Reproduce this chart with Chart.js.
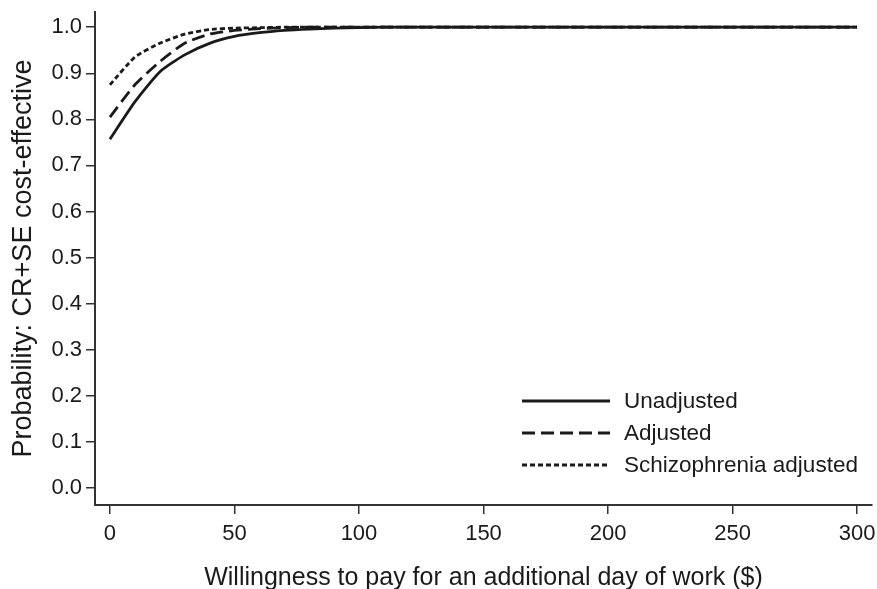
<!DOCTYPE html>
<html>
<head>
<meta charset="utf-8">
<script src="https://cdn.jsdelivr.net/npm/chart.js@4"></script>
<style>
  html, body { margin: 0; padding: 0; background: #fff; }
  #wrap { width: 877px; height: 589px; position: relative; }
</style>
</head>
<body>
<div id="wrap"><canvas id="ceac"></canvas></div>
<script>
// Willingness to pay ($), sampled every 10
const wtp = [0, 10, 20, 30, 40, 50, 60, 70, 80, 90, 100, 110, 120, 130, 140, 150,
    160, 170, 180, 190, 200, 210, 220, 230, 240, 250, 260, 270, 280, 290, 300];

const unadjusted = [0.757, 0.838, 0.903, 0.940, 0.965, 0.980, 0.988, 0.993, 0.996, 0.998, 0.999,
    1, 1, 1, 1, 1, 1, 1, 1, 1, 1, 1, 1, 1, 1, 1, 1, 1, 1, 1, 1];
const adjusted = [0.805, 0.875, 0.925, 0.965, 0.985, 0.993, 0.997, 0.999, 1, 1, 1,
    1, 1, 1, 1, 1, 1, 1, 1, 1, 1, 1, 1, 1, 1, 1, 1, 1, 1, 1, 1];
const schizoAdjusted = [0.875, 0.935, 0.965, 0.985, 0.995, 0.998, 0.999, 1, 1, 1, 1,
    1, 1, 1, 1, 1, 1, 1, 1, 1, 1, 1, 1, 1, 1, 1, 1, 1, 1, 1, 1];

const seriesLabels = ['Unadjusted', 'Adjusted', 'Schizophrenia adjusted'];
const xTicks = [0, 50, 100, 150, 200, 250, 300];
const yTicks = [0, 0.1, 0.2, 0.3, 0.4, 0.5, 0.6, 0.7, 0.8, 0.9, 1.0];

const ink = '#1a1a1a';
const dashes = [[], [13, 6], [5, 3]];
const fontFamily = "'Liberation Sans', Arial, sans-serif";

const toPoints = arr => arr.map((y, i) => ({ x: wtp[i], y: y }));

// Legend drawn inside the plot area, bottom-right like the original
const insideLegend = {
    id: 'insideLegend',
    afterDraw(chart) {
        const ctx = chart.ctx;
        const x0 = 522, x1 = 610, textX = 624;
        const rows = [401, 433, 465];
        ctx.save();
        ctx.font = '22.5px ' + fontFamily;
        ctx.textBaseline = 'middle';
        ctx.fillStyle = ink;
        seriesLabels.forEach((lbl, i) => {
            ctx.beginPath();
            ctx.setLineDash(dashes[i]);
            ctx.lineWidth = 2.8;
            ctx.strokeStyle = ink;
            ctx.moveTo(x0, rows[i]);
            ctx.lineTo(x1, rows[i]);
            ctx.stroke();
            ctx.setLineDash([]);
            ctx.fillText(lbl, textX, rows[i] + 1);
        });
        ctx.restore();
    }
};

const makeDataset = (label, values, i) => ({
    label: label,
    data: toPoints(values),
    borderColor: ink,
    borderWidth: 2.8,
    borderDash: dashes[i],
    pointRadius: 0,
    tension: 0.2,
    fill: false
});

new Chart(document.getElementById('ceac'), {
    type: 'line',
    data: {
        datasets: [
            makeDataset(seriesLabels[0], unadjusted, 0),
            makeDataset(seriesLabels[1], adjusted, 1),
            makeDataset(seriesLabels[2], schizoAdjusted, 2)
        ]
    },
    options: {
        responsive: true,
        maintainAspectRatio: false,
        animation: false,
        layout: { padding: { top: 12, right: 5, left: 0, bottom: 0 } },
        plugins: {
            legend: { display: false },
            tooltip: { enabled: false }
        },
        scales: {
            x: {
                type: 'linear',
                min: -6,
                max: 306,
                afterBuildTicks: s => { s.ticks = xTicks.map(v => ({ value: v })); },
                afterFit: s => { s.height = 84; s.paddingLeft = 0; s.paddingRight = 0; },
                border: { display: true, color: '#333', width: 2 },
                grid: { display: true, drawOnChartArea: false, drawTicks: true, tickLength: 9, color: '#333', lineWidth: 1.5 },
                ticks: { color: ink, font: { family: fontFamily, size: 22 }, padding: 7, maxRotation: 0 },
                title: {
                    display: true,
                    text: 'Willingness to pay for an additional day of work ($)',
                    color: ink,
                    font: { family: fontFamily, size: 25, lineHeight: 1 },
                    padding: { top: 0, bottom: -2 }
                }
            },
            y: {
                type: 'linear',
                min: -0.037,
                max: 1.033,
                afterBuildTicks: s => { s.ticks = yTicks.map(v => ({ value: v })); },
                afterFit: s => { s.width = 95; s.paddingTop = 0; s.paddingBottom = 0; },
                border: { display: true, color: '#333', width: 2 },
                grid: { display: true, drawOnChartArea: false, drawTicks: true, tickLength: 9, color: '#333', lineWidth: 1.5 },
                ticks: {
                    color: ink,
                    font: { family: fontFamily, size: 22 },
                    padding: 4,
                    callback: v => v.toFixed(1)
                },
                title: {
                    display: true,
                    text: 'Probability: CR+SE cost-effective',
                    color: ink,
                    font: { family: fontFamily, size: 27, lineHeight: 1 },
                    padding: { top: 10, bottom: 0 }
                }
            }
        }
    },
    plugins: [insideLegend]
});
</script>
</body>
</html>
